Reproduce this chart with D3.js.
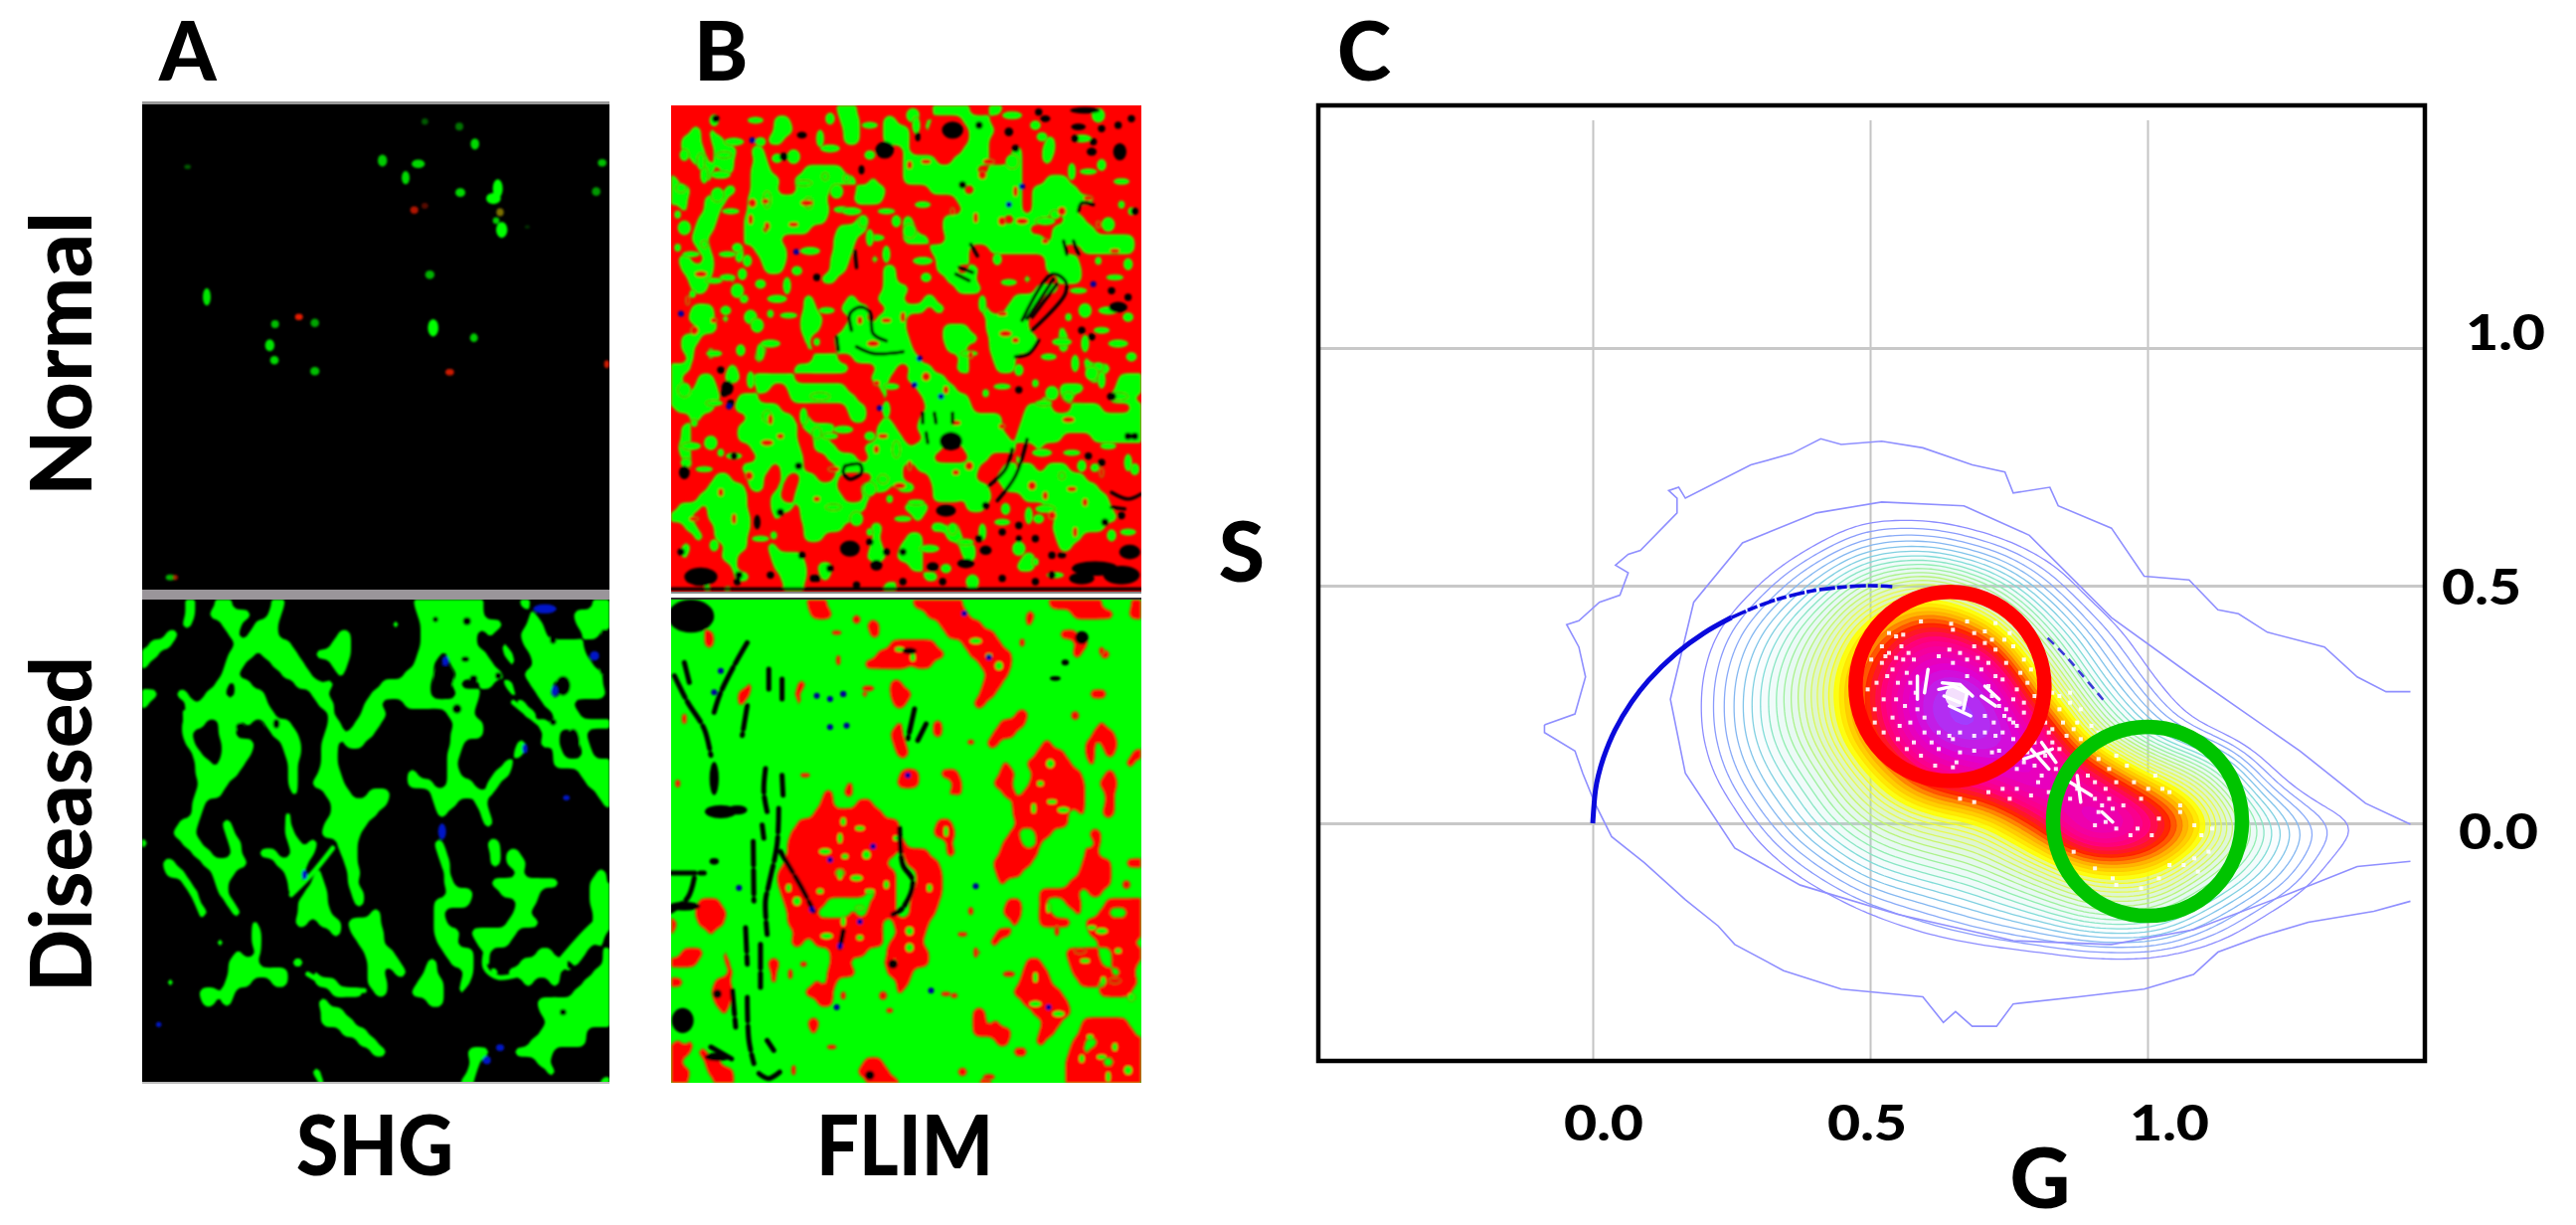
<!DOCTYPE html>
<html><head><meta charset="utf-8">
<script src="https://cdn.jsdelivr.net/npm/d3@7"></script>
<style>html,body{margin:0;background:#fff}svg{display:block}text{font-family:Lato,sans-serif;font-weight:700;fill:#000}</style>
</head><body><svg id="c" width="2591" height="1232"></svg>
<script>
// ---- chart C : phasor plot values (G, S)
const gTicks=[0,0.5,1], sTicks=[0,0.5,1], tickLabels=['0.0','0.5','1.0'];
const outerUpper=[[-.087,.207],[-.032,.23],[-.013,.308],[-.025,.371],[-.047,.418],[-.025,.426],[.012,.465],[.049,.48],[.064,.527],[.041,.543],[.064,.566],[.086,.574],[.152,.653],[.152,.684],[.137,.7],[.155,.707],[.167,.684],[.285,.754],[.359,.778],[.411,.809],[.448,.797],[.521,.804],[.595,.79],[.684,.754],[.743,.739],[.758,.695],[.824,.707],[.839,.668],[.935,.621],[.994,.52],[1.075,.512],[1.127,.449],[1.164,.441],[1.216,.402],[1.319,.371],[1.378,.308],[1.43,.277],[1.474,.277]];
const outerLower=[[1.474,-.164],[1.408,-.185],[1.29,-.208],[1.201,-.239],[1.127,-.271],[1.083,-.318],[.994,-.349],[.876,-.365],[.758,-.38],[.728,-.427],[.684,-.427],[.654,-.396],[.632,-.419],[.595,-.365],[.448,-.349],[.344,-.31],[.256,-.255],[.226,-.216],[.167,-.161],[.093,-.083],[.034,-.028],[.004,.042],[-.018,.105],[-.032,.152],[-.087,.191],[-.087,.207]];
const secondContour=[[1.474,-.002],[1.393,.042],[1.275,.152],[1.083,.308],[.935,.433],[.787,.606],[.669,.668],[.521,.676],[.403,.653],[.27,.59],[.182,.465],[.14,.261],[.167,.105],[.256,-.052],[.374,-.13],[.551,-.192],[.758,-.247],[.935,-.255],[1.083,-.224],[1.26,-.146],[1.378,-.091],[1.474,-.08]];
const densityG=[.1,.2,.3,.4,.5,.6,.7,.8,.9,1,1.1,1.2,1.3,1.4,1.5];
const densityS=[.7,.6,.5,.4,.3,.2,.1,0,-.1,-.2,-.3];
const densityLevels=[
[0,0,0,0,0,0,0,0,0,0,0,0,0,0,0],
[0,0,0,2,5,5,3,1,0,0,0,0,0,0,0],
[0,0,3,8,15,18,13,6,1,0,0,0,0,0,0],
[0,2,7,14,24,31,26,13,5,1,0,0,0,0,0],
[0,3,9,17,28,38,38,21,9,3,0,0,0,0,0],
[0,3,9,16,27,38,40,32,16,7,2,0,0,0,0],
[0,2,7,12,20,29,32,37,30,21,15,4,0,0,0],
[0,0,4,9,14,17,19,27,38,33,22,11,5,3,0],
[0,0,1,4,8,10,12,16,21,21,14,8,3,0,0],
[0,0,0,0,2,4,6,8,11,11,6,2,0,0,0],
[0,0,0,0,0,0,0,0,0,0,0,0,0,0,0]];
const colourLevels=[3,5,7,9,11,14,17,20,23,26,29,34,38];
const colourStops=['#8c8cff','#88aaf8','#80c4ea','#80dcd8','#90eeb0','#b8f478','#e8fa50','#ffff00','#ffb000','#ff2000','#ff0080','#e000d0','#a040ff'];
const arcG=[0,.005,.01,.02,.04,.07,.1,.15,.2,.25], arcS=[0,.07,.1,.14,.196,.255,.3,.357,.4,.433];
const arcFadeG=[.25,.3,.35,.4,.45,.5,.54], arcFadeS=[.433,.458,.477,.49,.497,.5,.498];
const arcTailG=[.82,.85,.88,.92], arcTailS=[.39,.355,.315,.26];
const ringG=[.644,1.0], ringS=[.288,.004], ringColours=['#ff0000','#00c400'];
const speckles=[[420,290],[440,300],[460,295],[510,255],[595,262],[640,255],[690,285],[720,260],[760,290],[400,330],[420,350],[455,330],[370,370],[400,380],[430,400],[460,370],[490,370],[620,350],[660,330],[690,320],[720,340],[750,380],[790,410],[810,440],[780,460],[770,490],[800,500],[830,480],[360,460],[380,520],[405,490],[440,490],[465,510],[500,520],[520,545],[480,560],[450,570],[520,590],[490,620],[560,640],[600,610],[620,650],[660,645],[710,650],[730,645],[610,680],[550,690],[600,695],[770,560],[740,590],[780,570],[720,600],[700,380],[680,400],[640,420],[600,380],[720,420],[740,430],[700,450],[760,550],[880,620],[900,640],[860,660],[830,690],[850,720],[800,680],[820,780],[780,760],[740,760],[920,600],[940,580],[900,520],[930,500],[950,560],[990,570],[880,470],[1010,670],[1040,700],[980,720],[950,760],[930,790],[1000,740],[1030,760],[1060,740],[1090,690],[1130,790],[1170,720],[1190,760],[1240,810],[1280,870],[1030,860],[1060,880],[1100,900],[1160,900],[1020,810],[1050,820],[1080,810],[940,950],[1280,970],[1250,990],[1050,1030],[1130,1060],[1180,1030],
[380,560],[405,590],[430,545],[445,610],[470,640],[510,660],[385,440],[415,420],[445,440],[410,360],[440,365],[475,350],[600,280],[660,290],[710,310],[745,310],[770,330],[800,370],[820,400],[800,530],[770,610],[745,540],[715,560],[690,590],[660,600],[620,590],[590,600],[560,590],[540,620],[470,410],[480,440],[495,470],[560,360],[590,340],[640,370],[670,365],[710,480],[730,510],[750,520],[690,540],[830,620],[870,590],[810,650],[780,700],[890,700],[910,560],[960,610],[1000,640],[1060,660],[1110,740],[1150,760],[1210,770],[1240,830],[1300,900],[1330,880],[1000,790],[1010,830],[1040,790],[1000,870],[1120,880],[1180,850],[880,580],[860,560],[900,480],[930,470],[960,520],[1010,590],[840,740],[870,770],[700,770],[760,790],[660,800],[620,790],[1320,950],[1290,1010],[1210,990],[1000,1000],[1060,1050]];
const peakStrokes=[[[560,460],[600,450],[640,470],[630,520]],[[570,440],[620,445],[655,480]],[[575,480],[620,500]],[[500,420],[500,490]],[[530,400],[520,470]],[[590,510],[650,540]],[[680,480],[720,510]],[[690,450],[730,490]],[[820,640],[870,700]],[[850,620],[890,680]],[[800,670],[880,640]],[[930,740],[990,780]],[[950,720],[960,800]],[[1020,830],[1050,860]]];
const peakCore=[[610,480,32,34]];

// ---- panel A, normal : bright spots [x,y,rx,ry,opacity]
const spotsGreen=[[853,52,10,10,.35],[957,67,12,12,.45],[1004,120,13,17,.85],[725,170,14,18,.8],[833,180,20,13,.85],[795,222,12,20,.85],[1388,177,13,11,.75],[1370,264,13,13,.6],[960,267,15,13,.85],[1073,255,15,28,1],[1060,285,22,17,1],[1085,380,17,24,1],[1068,352,10,10,.8],[868,516,14,13,.7],[195,583,12,26,.9],[137,189,10,7,.35],[401,666,12,12,.75],[521,662,13,13,.65],[385,730,14,18,.9],[399,775,13,13,.85],[521,808,14,13,.75],[878,677,16,26,1],[1001,707,12,13,.8],[85,1433,14,9,.7],[1162,371,8,5,.2]];
const spotsRed=[[473,644,12,10,.9],[821,320,12,11,.7],[853,307,10,9,.35],[928,811,13,10,.8],[1402,787,8,12,.8],[100,1433,8,8,.6]];
const spotsAmber=[[1080,327,11,12,.7]];

// ---- panel A, diseased : green runs per image row [from,to,from,to...]
const shgRuns=[[130,160,220,270,390,430,820,1030,1140,1170,1360,1410],[130,155,200,330,380,420,670,690,830,1030,1170,1190,1300,1410],[125,145,240,300,340,410,750,775,840,1090,1160,1210,1310,1410],[70,110,260,290,320,410,590,630,840,1010,1040,1060,1140,1220,1330,1380],[20,90,280,450,570,630,840,1010,1080,1100,1150,1330],[0,50,260,340,360,470,520,630,830,900,920,1040,1090,1120,1170,1340],[0,20,250,310,390,490,570,620,820,880,930,1060,1110,1130,1180,1360],[240,290,420,510,590,610,790,880,950,1090,1150,1390],[220,260,280,330,460,540,550,580,720,870,930,960,1020,1060,1090,1120,1170,1240,1280,1390],[0,45,100,135,190,250,280,370,510,560,690,870,950,1020,1110,1130,1190,1230,1260,1400],[0,20,130,160,170,380,530,580,670,720,790,1010,1130,1160,1210,1300],[130,240,260,400,560,580,660,740,920,1000,1150,1190,1240,1320],[125,190,230,290,310,330,370,450,560,600,640,720,940,1030,1190,1230,1250,1410],[125,150,230,280,390,470,550,610,620,700,930,1030,1210,1260,1300,1340],[130,160,240,340,420,480,545,590,610,670,930,970,1130,1160,1200,1230,1240,1260,1320,1350],[150,180,240,330,430,480,540,590,920,960,1120,1150,1240,1270,1330,1360],[160,210,230,310,440,470,540,590,920,950,1090,1120,1240,1410],[160,290,445,470,535,600,800,830,920,960,1060,1110,1320,1410],[170,260,445,470,510,610,800,880,920,1000,1040,1080,1340,1410],[160,240,450,470,550,630,680,750,870,1030,1040,1060,1370,1410],[150,190,250,270,570,740,880,950,1010,1040,1390,1410],[150,180,430,450,570,710,895,915,1020,1050],[110,170,240,270,430,450,550,680,1030,1060],[95,160,250,280,430,460,545,660],[0,20,120,180,265,295,440,480,500,530,590,650,880,905,1045,1080],[150,210,270,300,350,410,450,520,560,575,600,650,890,920,1050,1080,1100,1140],[65,100,180,320,400,500,540,555,610,650,900,930,1050,1075,1100,1160],[70,130,210,280,430,490,520,540,620,660,910,930,1130,1150,1370,1400],[120,150,220,260,440,480,510,550,625,650,910,940,1050,1260,1350,1400],[140,165,230,260,440,460,490,560,630,670,920,1000,1080,1200,1350,1410],[160,180,250,280,470,560,640,670,880,990,1130,1190,1350,1410],[175,195,270,300,470,570,690,720,880,910,1120,1170,1360,1410],[330,350,465,495,530,600,620,720,880,920,1100,1200,1360,1410],[330,355,570,600,630,730,880,960,990,1130,1340,1400],[220,250,335,355,650,730,890,950,1010,1110,1310,1360,1370,1390],[280,300,340,360,670,760,910,1000,1030,1050,1190,1240,1280,1340,1395,1410],[260,350,450,490,680,720,730,780,860,890,930,1000,1030,1050,1140,1280,1300,1320,1390,1410],[260,440,510,530,680,730,760,800,850,890,970,1000,1050,1080,1100,1260,1280,1300,1360,1410],[70,100,250,330,390,440,520,590,680,740,830,910,960,990,1150,1180,1230,1260,1330,1410],[170,230,240,280,570,670,700,740,810,910,950,965,1300,1410],[180,220,245,270,530,560,780,800,860,910,1190,1400],[540,610,680,690,1200,1260,1280,1410],[500,520,540,640,1220,1410],[600,680,1200,1340],[650,710,1170,1340],[690,735,985,1050,1120,1240],[990,1020,1190,1230],[20,40,510,540,980,1010,1225,1250],[530,545,965,1000,1380,1410]];
const shgStrands=[[[575,750],[510,830],[450,890]],[[1120,310],[1230,400]],[[1260,1090],[1340,1000],[1395,950]],[[1040,1050],[1035,1110],[1075,1140],[1170,1120]],[[500,1130],[580,1170],[670,1180]],[[1000,590],[1045,670]],[[130,340],[140,420],[190,490]],[[80,810],[130,850],[180,950]]];
const shgHoles=[[980,65,12,12],[885,60,8,8],[1000,240,12,12],[1075,230,10,10],[950,330,14,14],[975,180,12,8],[295,385,12,12],[355,385,12,14],[405,375,10,14],[1240,120,10,14],[1270,260,22,30],[1300,430,20,40],[1395,100,10,10],[1240,370,10,10],[1270,1245,10,10],[910,235,30,40],[1390,210,10,18]];
const shgBlue=[[1215,28,35,14],[1365,170,14,14],[905,700,12,24],[1155,450,8,14],[1040,1390,12,12],[1080,1352,12,10],[490,830,8,14],[1280,598,10,8],[1245,275,10,16],[50,1282,8,8],[915,185,10,14]];

// ---- panel B, normal : green runs per image row
const flimNormalRuns=[[500,560,790,900,960,1000],[310,360,430,450,510,570,640,680,770,790,880,960],[60,90,110,130,310,370,520,570,640,720,760,780,900,980],[30,90,120,160,290,340,520,570,640,720,900,960,1130,1160],[30,100,130,200,240,280,420,440,700,720,880,960,1030,1060,1120,1160],[60,110,130,190,250,290,700,800,850,960,1020,1060,1120,1150],[90,130,150,190,240,300,400,520,700,920,960,1060],[0,20,100,120,240,330,370,560,600,620,700,1060,1130,1200],[0,60,160,200,240,320,380,480,560,650,780,880,920,1060,1090,1230],[0,50,100,170,230,470,550,640,860,1060,1090,1280],[30,50,100,150,230,480,880,1060,1090,1220],[80,140,220,470,560,600,700,730,820,1000,1040,1130,1190,1250],[70,130,220,270,300,420,500,590,700,740,820,1080,1150,1280],[60,110,220,330,490,560,700,780,830,1130,1150,1400],[80,120,200,220,250,350,490,550,780,900,960,1180,1240,1400],[20,60,100,130,190,220,270,350,480,540,600,630,800,900,1130,1230],[30,130,280,340,480,530,640,680,800,860,900,930,1130,1240],[50,120,170,200,450,500,640,680,830,920,1060,1090,1170,1240],[60,110,260,280,640,720,860,940,1100,1170],[200,240,400,430,530,560,620,700,760,800,1030,1120],[60,130,400,440,510,600,650,770,790,830,930,960,1010,1090],[50,130,150,180,280,300,390,460,540,590,620,710,950,1080],[80,140,390,450,520,710,820,900,950,1080,1170,1190],[30,90,300,320,400,420,490,720,820,930,960,1110,1170,1200],[30,70,110,130,190,210,260,290,410,430,500,730,830,890,960,1090,1175,1195],[50,70,110,130,250,280,430,500,550,750,870,900,970,1040,1240,1260],[0,60,170,200,370,540,620,680,720,790,860,900,980,1040,1250,1330],[0,30,80,130,160,210,240,370,600,660,710,830,900,920,1260,1300,1350,1420],[0,50,70,140,260,300,350,530,630,650,740,860,1170,1250,1340,1420],[0,150,200,260,360,560,640,660,760,900,1120,1140,1180,1210,1320,1400],[10,130,190,330,530,590,770,910,1070,1150,1210,1300,1395,1420],[60,90,230,370,390,420,540,590,640,660,750,1000,1060,1420],[30,60,200,380,400,500,620,680,740,1000,1050,1420],[30,60,100,120,200,380,430,470,620,700,760,1020,1040,1180,1270,1420],[20,60,90,110,240,390,430,500,580,720,730,820,880,1040,1100,1120],[30,60,150,170,260,400,470,560,600,790,900,960,1040,1060],[50,70,210,300,330,400,500,700,740,930,1000,1040,1060,1100,1130,1200,1260,1300],[130,180,230,280,330,350,390,440,490,510,610,700,780,920,980,1020,1040,1250],[110,220,240,280,320,340,380,500,570,660,680,740,790,960,1000,1290],[80,230,300,330,370,520,580,600,790,880,890,970,1060,1319],[20,90,110,230,300,370,390,590,700,780,890,950,1130,1330],[0,60,110,240,310,330,390,560,730,760,1160,1350],[40,80,130,240,280,300,400,520,600,640,780,830,840,870,1150,1310],[70,100,130,230,260,280,400,460,610,630,710,760,830,880,1160,1240],[30,60,160,230,290,320,600,640,690,760,870,920,990,1010,1170,1210],[30,50,150,200,300,400,590,650,680,760,880,920,1060,1100],[180,200,310,410,440,490,560,580,720,760,930,950,1040,1100],[90,110,190,240,330,410,450,480,510,530,680,700,760,810],[100,120,160,180,340,400,640,680]];
const flimNormalGrainGreen=[[130,45],[255,45],[100,210],[150,210],[320,160],[370,155],[465,215],[400,235],[415,295],[515,315],[290,285],[545,320],[600,150],[730,30],[65,570],[130,530],[215,510],[170,520],[350,545],[320,585],[270,540],[240,640],[300,630],[355,635],[210,740],[130,750],[270,745],[300,720],[165,620],[260,665],[440,715],[900,750],[985,465],[1020,535],[940,600],[1180,715],[1290,790],[1270,810],[1100,840],[1125,900],[1400,1100],[665,850],[650,920],[520,980],[640,1130],[600,1160],[660,1190],[700,1250],[850,1280],[890,1320],[940,1290],[1130,1220],[1110,1250],[1050,1340],[310,1300],[270,1310],[130,1330],[490,1215],[680,1040],[60,1030],[45,1080],[120,1020],[150,1050],[100,1100],[290,940],[190,1060],[400,940],[1130,350],[1160,330],[1320,360],[1390,320],[1260,200],[1300,180],[1360,230],[1210,200],[1240,100],[1120,95],[1030,170],[1180,1120],[1210,1050],[1240,1090],[1320,1030],[1380,1080],[1120,1050],[200,430],[40,370],[20,430],[180,320],[580,350],[620,400],[650,450],[760,470],[770,520],[720,380],[1290,470],[1340,520],[1380,480],[1300,680],[1250,720],[1350,720],[1390,760],[40,860],[70,960],[130,900],[440,990],[480,1000],[450,100],[480,130],[270,110],[500,260],[530,220],[650,320],[680,350],[760,300],[600,400],[420,440],[380,500],[200,560],[100,420],[170,450],[230,470],[470,620],[240,830],[450,880],[600,1000],[560,1250],[600,1290],[740,1200],[1010,1220],[1000,1260],[1080,1240],[780,1340],[830,1400],[910,1440],[1100,1380],[1160,1420],[1330,1300],[1380,1290],[1300,830],[1350,880],[1200,880],[1150,870],[950,870],[1000,850],[1050,800],[1140,760],[1220,780],[1320,620],[1380,640],[1250,620],[1200,640],[1230,560],[40,150],[160,150],[90,170],[190,110],[30,250],[140,270],[20,330],[60,450],[480,40],[600,60],[740,60],[1030,30],[1100,60],[1290,30],[1360,300]];
const flimNormalGrainRed=[[290,365],[370,360],[240,345],[410,295],[285,290],[245,295],[905,755],[1000,630],[920,340],[1060,350],[1130,410],[1180,320],[1290,360],[1260,280],[1040,260],[960,170],[880,240],[940,210],[720,180],[770,170],[50,590],[90,510],[130,650],[70,680],[570,650],[650,650],[700,640],[610,720],[620,840],[770,820],[830,860],[860,960],[720,1090],[690,1150],[860,1110],[900,1090],[620,1040],[640,1000],[300,950],[290,1020],[330,1000],[235,1120],[150,1170],[70,1250],[190,1250],[490,1100],[440,1190],[1150,1240],[1250,1200],[1210,1160],[1300,1110],[1200,950],[1000,970],[1090,1150],[1130,1180],[1340,440],[1220,1290],[1010,690],[1040,710],[1000,350],[850,320]];
const flimNormalBlobs=[[850,75,32,26],[645,135,28,26],[340,155,12,12],[395,90,15,10],[1130,40,15,10],[1250,15,45,10],[1355,140,20,26],[1270,140,15,12],[1230,65,22,10],[1350,610,28,16],[1330,880,14,12],[845,1015,34,28],[170,855,18,22],[40,1110,16,20],[90,1425,50,28],[540,1340,30,24],[1385,1350,32,22],[1280,1400,70,22],[830,1225,30,18],[620,1390,18,16],[890,1385,26,14],[790,1395,18,14],[1020,80,13,13],[745,95,8,14],[575,195,9,14],[260,1260,10,22],[1050,1310,9,10],[950,1345,18,14],[1180,1360,13,9],[1240,1430,38,18],[1360,1420,55,28]];
const flimNormalSpecksBlack=[[135,40],[1275,110],[1220,100],[1300,70],[1350,60],[1390,40],[1110,20],[1040,130],[930,60],[1150,1360],[1100,1310],[1000,1290],[1050,1270],[930,1310],[700,1350],[650,1350],[600,1320],[480,1400],[430,1430],[300,1420],[200,1440],[30,1350],[180,900],[150,800],[160,870],[385,1090],[190,1060],[1240,680],[1270,700],[1330,560],[1260,1060],[1300,1080],[1360,1240],[1310,1260],[1400,320],[1380,580],[1400,1000],[1380,1000],[950,1210],[330,1230],[440,1430],[560,1450],[700,1440],[820,1440],[1000,1430],[1100,1440],[1150,1420],[880,240],[1050,860],[440,520],[395,1360],[205,1420]];
const flimNormalLines=[[[545,680],[540,630],[570,610],[600,625],[610,690],[650,712]],[[560,730],[610,750],[700,745]],[[1060,650],[1150,510],[1190,530],[1190,570],[1090,680]],[[1090,640],[1165,540]],[[1075,645],[1155,525]],[[960,1150],[1010,1100],[1030,1040]],[[985,1195],[1040,1120],[1075,1010]],[[525,1090],[570,1085],[575,1110],[540,1130],[520,1110],[525,1090]],[[1230,320],[1240,295],[1275,300]],[[1185,410],[1195,450]],[[1215,410],[1230,450]],[[1040,760],[1080,750],[1110,710]],[[905,420],[925,455]],[[860,510],[900,530]],[[870,490],[910,505]],[[1330,1170],[1380,1190],[1419,1175]],[[1330,1215],[1370,1220]],[[555,440],[560,490]],[[0,1462],[1420,1462]],[[500,700],[505,740]],[[770,990],[775,1020]],[[795,930],[800,960]],[[760,930],[760,960]],[[850,930],[850,960]]];
const flimNormalBlue=[[378,443],[245,105],[30,630],[175,910],[630,915],[1060,245],[1020,300],[735,845],[1275,540],[750,765],[815,880]];

// ---- panel B, diseased : red runs per image row
const flimDiseasedRuns=[[410,470,730,880,1140,1300,1390,1419],[420,490,770,900,1070,1100,1210,1340,1380,1419],[80,100,590,630,810,940,1070,1090],[100,130,460,475,510,530,600,630,830,980,1170,1230,1260,1280],[100,130,170,190,660,800,880,1000,1220,1260],[380,400,620,830,900,1030,1210,1240,1290,1330],[580,720,730,790,930,1030],[950,1020],[230,250,380,410,660,700,940,1000],[200,240,370,390,570,600,660,730,930,980,1260,1320],[200,220,380,400,670,710,910,950,1140,1160],[30,50,1040,1080],[30,45,680,700,790,820,990,1070,1290,1310],[660,700,790,820,970,1040,1270,1340],[670,710,890,910,950,990,1120,1150,1250,1280,1300,1350],[680,720,1100,1190,1250,1280,1310,1340,1390,1419],[1000,1020,1070,1210,1260,1280,1370,1400],[390,410,690,745,810,870,990,1040,1090,1240,1310,1340],[530,550,680,745,850,880,970,1030,1080,1250,1290,1350],[460,490,520,550,830,850,860,880,1000,1040,1060,1250,1310,1340],[450,490,560,610,1030,1250,1310,1340],[430,640,1030,1200,1230,1250,1300,1340],[380,690,800,850,1040,1200],[360,690,790,860,1020,1050,1100,1150,1260,1300],[350,710,830,850,1000,1060,1100,1120,1230,1250,1280,1300],[350,680,700,780,830,860,990,1110,1250,1290],[340,650,710,810,970,1090,1240,1330,1370,1419],[320,490,530,680,740,820,980,1060,1230,1330],[320,440,450,680,740,820,990,1010,1200,1330],[330,440,460,590,620,680,730,820,1110,1230,1260,1300],[80,150,340,470,600,680,720,810,1010,1060,1110,1130,1190,1240,1310,1419],[70,170,350,440,540,560,590,680,720,800,1000,1060,1110,1150,1220,1240,1290,1320,1380,1419],[0,20,80,160,350,640,670,780,1030,1050,1110,1210,1250,1419],[0,10,110,130,170,190,370,640,680,770,870,890,980,1030,1260,1419],[360,400,430,640,660,760,960,990,1290,1400],[30,100,150,170,480,590,650,780,910,940,1190,1290,1330,1419],[0,80,160,180,290,330,480,540,640,660,690,780,1070,1120,1200,1300,1330,1410],[170,190,300,320,470,560,650,730,1060,1140,1210,1330,1360,1400],[0,40,130,180,300,320,430,450,470,500,680,720,1050,1150,1230,1290,1320,1410],[120,190,400,490,680,700,1030,1180,1290,1390],[130,180,440,490,1060,1200],[150,170,910,950,1010,1030,1090,1210],[410,450,910,950,970,990,1120,1180,1240,1380],[420,440,910,1000,1005,1025,1110,1160,1230,1400],[10,30,50,70,980,1020,1100,1130,1210,1250,1290,1419],[0,60,80,110,1030,1080,1200,1240,1260,1419],[0,30,100,150,580,640,1190,1300,1340,1419],[0,60,110,190,565,660,860,900,1190,1419],[0,50,130,190,590,690,820,840,930,970,1190,1419]];
const flimDiseasedGrainGreen=[[520,670],[570,690],[510,720],[465,760],[525,775],[590,770],[650,860],[600,880],[510,830],[560,840],[450,880],[380,910],[355,870],[570,930],[520,970],[470,1015],[570,1020],[720,1000],[780,870],[1150,610],[1095,630],[1185,635],[1115,555],[1145,495],[1305,1150],[1250,1090],[1100,1140],[1100,1220],[1265,1320],[1380,1420],[1340,1350],[1270,990],[1140,930],[920,125],[960,170],[990,200],[730,175],[690,150],[830,700],[1300,1000],[1350,1060],[1390,1200],[1240,1385],[1300,1380],[1320,1440],[1170,1250],[680,720],[720,1050]];
const flimDiseasedGrainRed=[[20,555],[405,530],[505,183],[595,268],[905,430],[1220,350],[1300,155],[880,1010],[920,1065],[1235,1060],[855,1195],[640,1195],[520,1195],[485,1350],[370,1420],[960,1440],[660,1240],[1375,860],[905,940],[830,1190],[1165,1000],[1340,1150],[400,1100],[560,60],[1060,130],[500,100],[360,1130],[1020,1130]];
const flimDiseasedBlobs=[[60,50,70,50],[150,640,48,20],[200,635,30,14],[130,540,14,50],[35,1270,33,38],[140,1380,38,13],[40,925,48,13],[1240,115,20,20],[600,1435,14,14],[670,1100,14,14],[1190,190,11,9],[1160,238,16,7],[520,285,9,9],[140,1190,13,13],[720,155,22,10],[130,790,14,10]];
const flimDiseasedLines=[[[10,230],[50,310],[100,390],[120,470]],[[230,130],[190,200],[150,280],[130,340]],[[230,320],[215,410]],[[295,210],[295,270]],[[335,240],[335,300]],[[285,510],[280,580],[290,640]],[[335,530],[338,590]],[[325,630],[320,740],[295,860],[285,910],[290,1010]],[[275,680],[280,720]],[[248,730],[250,910]],[[225,990],[230,1100]],[[270,1040],[270,1170]],[[330,760],[400,880],[430,940]],[[690,690],[700,800],[730,850],[700,930],[670,950]],[[0,825],[100,825]],[[70,840],[50,900],[0,940]],[[735,330],[715,420]],[[770,375],[745,425]],[[185,1180],[195,1290]],[[230,1200],[235,1330],[250,1400]],[[290,1330],[310,1360]],[[265,1430],[295,1445],[335,1420]],[[120,1350],[190,1390]],[[40,190],[55,250]],[[520,1000],[510,1050]]];
const flimDiseasedBlue=[[885,42],[715,530],[610,745],[480,785],[570,972],[425,935],[510,1045],[1140,1230],[960,175],[785,1180],[920,865],[205,870],[500,1230],[520,285],[130,280],[150,215],[440,290],[480,300],[530,380],[480,385]];
const grainRx=[14,24,12,30,16,20,10,26], grainRy=[18,10,26,12,14,22,12,9];
const fleckRx=[8,14,7,18,10,12], fleckRy=[12,7,15,9,8,13];

// ---- texts
const panelLetters=['A','B','C'], columnTitles=['SHG','FLIM'], rowTitles=['Normal','Diseased'], axisNames=['G','S'];

// ---------------- drawing ----------------
const svg=d3.select('#c');
const defs=svg.append('defs');
defs.append('filter').attr('id','soft').attr('x','-5%').attr('y','-5%').attr('width','110%').attr('height','110%')
  .append('feGaussianBlur').attr('stdDeviation',1);
defs.append('filter').attr('id','spot').attr('x','-50%').attr('y','-50%').attr('width','200%').attr('height','200%')
  .append('feGaussianBlur').attr('stdDeviation',1.3);

function panel(id,px0,px1,py0,py1,w,h,bg){
  defs.append('clipPath').attr('id',id).append('rect').attr('x',px0).attr('y',py0).attr('width',px1-px0).attr('height',py1-py0);
  svg.append('rect').attr('x',px0).attr('y',py0).attr('width',px1-px0).attr('height',py1-py0).attr('fill',bg);
  const g=svg.append('g').attr('clip-path',`url(#${id})`).append('g').attr('filter','url(#soft)');
  return {g,sx:d3.scaleLinear([0,w],[px0,px1]),sy:d3.scaleLinear([0,h],[py0,py1]),w,h};
}
function runsPath(p,rows,step){
  const cell=10,nx=Math.ceil(p.w/cell),ny=Math.ceil(p.h/cell),vals=new Float64Array(nx*ny);
  rows.forEach((r,i)=>{
    const yc=step/2+i*step;
    for(let j=Math.floor((yc-step/2)/cell);j<Math.ceil((yc+step/2)/cell)&&j<ny;j++){
      for(let k=0;k+1<r.length;k+=2){
        for(let c=Math.floor(r[k]/cell);c<Math.ceil(r[k+1]/cell)&&c<nx;c++) vals[j*nx+c]=1;
      }
    }
  });
  d3.blur2({data:vals,width:nx,height:ny},.4,.8);
  const shape=d3.contours().size([nx,ny]).thresholds([0.5])(vals)[0];
  const tf=d3.geoTransform({point(x,y){this.stream.point(p.sx(x*cell),p.sy(y*cell));}});
  return d3.geoPath(tf)(shape);
}
function ell(p,list,fill){
  return p.g.append('g').attr('fill',fill).selectAll('ellipse').data(list).join('ellipse')
    .attr('cx',d=>p.sx(d[0])).attr('cy',d=>p.sy(d[1]))
    .attr('rx',d=>p.sx(d[2]||9)-p.sx(0)).attr('ry',d=>p.sy(d[3]||9)-p.sy(0));
}
function lines(p,list,colour,width){
  const ln=d3.line().x(d=>p.sx(d[0])).y(d=>p.sy(d[1])).curve(d3.curveCatmullRom);
  return p.g.append('g').attr('fill','none').attr('stroke',colour).attr('stroke-width',width).attr('stroke-linecap','round')
    .selectAll('path').data(list).join('path').attr('d',ln);
}
const sized=(list,rx,ry)=>list.map((d,i)=>[d[0],d[1],rx[i%rx.length],ry[i%ry.length]]);
const olive='#7f8a00';

// panel A normal
svg.append('rect').attr('x',143).attr('y',102).attr('width',470).attr('height',4).attr('fill','#999');
const pAn=panel('pAn',143,613,105,593,1410,1470,'#000');
pAn.g.attr('filter',null);
[[spotsGreen,'#00ff00'],[spotsRed,'#ff2000'],[spotsAmber,'#b0a000']].forEach(([list,col])=>{
  pAn.g.append('g').attr('fill',col).attr('filter','url(#spot)').selectAll('ellipse').data(list).join('ellipse')
    .attr('cx',d=>pAn.sx(d[0])).attr('cy',d=>pAn.sy(d[1]))
    .attr('rx',d=>d[2]/3).attr('ry',d=>d[3]/3).attr('opacity',d=>d[4]);
});
svg.append('rect').attr('x',143).attr('y',593).attr('width',470).attr('height',10).attr('fill','#9a959a');

// panel A diseased
const pAd=panel('pAd',143,613,603,1089,1410,1458,'#000');
pAd.g.append('path').attr('d',runsPath(pAd,shgRuns,30)).attr('fill','#00ff00');
lines(pAd,shgStrands,'#00ff00',5);
ell(pAd,shgHoles,'#000');
ell(pAd,shgBlue,'#0018c8');
svg.append('rect').attr('x',143).attr('y',1088).attr('width',470).attr('height',2).attr('fill','#bbb');

// panel B normal
const pBn=panel('pBn',675,1148,106,595,1420,1470,'#ff0000');
pBn.g.append('path').attr('d',runsPath(pBn,flimNormalRuns,30)).attr('fill','#00ff00').attr('stroke',olive).attr('stroke-width',1.2);
ell(pBn,sized(flimNormalGrainGreen,grainRx,grainRy),'#00ff00').attr('stroke',olive).attr('stroke-width',1);
ell(pBn,sized(flimNormalGrainRed,fleckRx,fleckRy),'#f01000').attr('stroke',olive).attr('stroke-width',1);
ell(pBn,flimNormalBlobs,'#000');
ell(pBn,flimNormalSpecksBlack.map(d=>[d[0],d[1],11,11]),'#000');
lines(pBn,flimNormalLines,'#000',3.4);
ell(pBn,flimNormalBlue,'#0000a0');
svg.append('rect').attr('x',675).attr('y',595).attr('width',473).attr('height',2).attr('fill','#888');
svg.append('rect').attr('x',675).attr('y',597).attr('width',473).attr('height',4).attr('fill','#fff');
svg.append('rect').attr('x',675).attr('y',601).attr('width',473).attr('height',2).attr('fill','#333');

// panel B diseased
const pBd=panel('pBd',675,1148,603,1089,1420,1458,'#00ff00');
pBd.g.append('path').attr('d',runsPath(pBd,flimDiseasedRuns,30)).attr('fill','#ff0000').attr('stroke',olive).attr('stroke-width',1.2);
ell(pBd,sized(flimDiseasedGrainGreen,fleckRx,fleckRy),'#00ff00').attr('stroke',olive).attr('stroke-width',1);
ell(pBd,sized(flimDiseasedGrainRed,fleckRx,fleckRy),'#f01000').attr('stroke',olive).attr('stroke-width',1);
ell(pBd,flimDiseasedBlobs,'#000');
lines(pBd,flimDiseasedLines,'#000',5).attr('stroke-dasharray','24 5');
ell(pBd,flimDiseasedBlue,'#0000a0');

// chart C
const x=d3.scaleLinear([-.5,1.5],[1323,2439]);
const y=d3.scaleLinear([-.5,1.5],[1067,111]);
const L=1326,R=2439,T=106,B=1067;
defs.append('clipPath').attr('id','plot').append('rect').attr('x',L).attr('y',T).attr('width',R-L).attr('height',B-T);
const gx=svg.append('g').attr('transform',`translate(0,${B})`)
  .call(d3.axisBottom(x).tickValues(gTicks).tickSize(-(B-121)).tickFormat(''));
const gy=svg.append('g').attr('transform',`translate(${L},0)`)
  .call(d3.axisLeft(y).tickValues(sTicks).tickSize(-(R-L)).tickFormat(''));
gx.select('.domain').remove(); gy.select('.domain').remove();
gx.selectAll('line').attr('stroke','#c4c4c4').attr('stroke-width',2);
gy.selectAll('line').attr('stroke','#c8c8c8').attr('stroke-width',3);

const plot=svg.append('g').attr('clip-path','url(#plot)');
const up=10,nC=densityG.length,nR=densityS.length,nx=(nC-1)*up+1,ny=(nR-1)*up+1,field=new Float64Array(nx*ny);
for(let j=0;j<ny;j++)for(let i=0;i<nx;i++){
  const a=i/up,b=j/up,a0=Math.floor(a),b0=Math.floor(b),a1=Math.min(a0+1,nC-1),b1=Math.min(b0+1,nR-1),fa=a-a0,fb=b-b0;
  field[j*nx+i]=(1-fb)*((1-fa)*densityLevels[b0][a0]+fa*densityLevels[b0][a1])+fb*((1-fa)*densityLevels[b1][a0]+fa*densityLevels[b1][a1]);
}
d3.blur2({data:field,width:nx,height:ny},3);
const colour=d3.scaleLinear(colourLevels,colourStops).clamp(true);
const thresholds=d3.range(3,45);
const cellX=d3.scaleLinear([0,nx-1],[densityG[0],densityG[nC-1]]);
const cellY=d3.scaleLinear([0,ny-1],[densityS[0],densityS[nR-1]]);
const proj=d3.geoTransform({point(a,b){this.stream.point(x(cellX(a)),y(cellY(b)));}});
const cpath=d3.geoPath(proj);
const fillOpacity=d3.scaleThreshold([8,14,19,20],[0,.04,.08,.3,.85]);
plot.append('g').selectAll('path').data(d3.contours().size([nx,ny]).thresholds(thresholds)(field)).join('path')
  .attr('d',cpath).attr('fill',d=>colour(d.value)).attr('fill-opacity',d=>fillOpacity(d.value))
  .attr('stroke',d=>colour(d.value)).attr('stroke-width',1.3);
const ln=d3.line().x(d=>x(d[0])).y(d=>y(d[1]));
plot.append('g').attr('fill','none').attr('stroke','#8f8fff').attr('stroke-width',1.6)
  .selectAll('path').data([outerUpper,outerLower,secondContour]).join('path').attr('d',ln);

const zx=d3.scaleLinear([0,1568],[1750,2310]), zy=d3.scaleLinear([0,1260],[540,960]);
plot.append('g').attr('fill','#fff').attr('opacity',.85).selectAll('ellipse').data(peakCore).join('ellipse')
  .attr('cx',d=>zx(d[0])).attr('cy',d=>zy(d[1])).attr('rx',d=>zx(d[2])-zx(0)).attr('ry',d=>zy(d[3])-zy(0));
plot.append('g').attr('fill','#fff').selectAll('rect').data(speckles).join('rect')
  .attr('x',d=>zx(d[0])-2).attr('y',d=>zy(d[1])-2).attr('width',4).attr('height',4).attr('opacity',.9);
plot.append('g').attr('fill','none').attr('stroke','#fff').attr('stroke-width',3.5).attr('stroke-linecap','round')
  .selectAll('path').data(peakStrokes).join('path')
  .attr('d',d3.line().x(d=>zx(d[0])).y(d=>zy(d[1])));

// universal circle
const arcLine=d3.line().x(d=>x(d[0])).y(d=>y(d[1])).curve(d3.curveCatmullRom);
plot.append('path').datum(arcG.map((g,i)=>[g,arcS[i]])).attr('d',arcLine)
  .attr('fill','none').attr('stroke','#0a0adc').attr('stroke-width',5);
plot.append('path').datum(arcFadeG.map((g,i)=>[g,arcFadeS[i]])).attr('d',arcLine)
  .attr('fill','none').attr('stroke','#0a0adc').attr('stroke-width',3.6).attr('stroke-dasharray','16 2 10 3');
plot.append('path').datum(arcTailG.map((g,i)=>[g,arcTailS[i]])).attr('d',arcLine)
  .attr('fill','none').attr('stroke','#3a3ad8').attr('stroke-width',2.6).attr('stroke-dasharray','9 6');

// rings
plot.append('g').attr('fill','none').selectAll('circle').data(ringG).join('circle')
  .attr('cx',d=>x(d)).attr('cy',(d,i)=>y(ringS[i])).attr('r',95)
  .attr('stroke',(d,i)=>ringColours[i]).attr('stroke-width',14.5);

// frame
svg.append('path').attr('d',`M${L},${T}H${R}V${B}H${L}Z`).attr('fill','none').attr('stroke','#000').attr('stroke-width',4.5);

// tick labels
const gLabelDx=[11,-3,22], sLabelX=[2513,2496,2520], sLabelDy=[9,2,-15];
svg.append('g').selectAll('text').data(tickLabels).join('text')
  .attr('x',(d,i)=>x(gTicks[i])+gLabelDx[i]).attr('y',1147).attr('text-anchor','middle').style('font-weight',900)
  .attr('font-size',50).attr('textLength',80).attr('lengthAdjust','spacingAndGlyphs').text(d=>d);
svg.append('g').selectAll('text').data(tickLabels).join('text')
  .attr('x',(d,i)=>sLabelX[i]).attr('y',(d,i)=>y(sTicks[i])+sLabelDy[i]+17).attr('text-anchor','middle').style('font-weight',900)
  .attr('font-size',50).attr('textLength',80).attr('lengthAdjust','spacingAndGlyphs').text(d=>d);

// titles
const letterX=[160,698,1345];
svg.append('g').selectAll('text').data(panelLetters).join('text')
  .attr('x',(d,i)=>letterX[i]).attr('y',81).attr('font-size',82).style('font-weight',900).text(d=>d);
const titleMid=[377,910], titleLen=[158,178];
svg.append('g').selectAll('text').data(columnTitles).join('text')
  .attr('x',(d,i)=>titleMid[i]).attr('y',1182).attr('text-anchor','middle').attr('font-size',84).style('font-weight',900)
  .attr('textLength',(d,i)=>titleLen[i]).attr('lengthAdjust','spacingAndGlyphs').text(d=>d);
const rowMid=[356,829], rowLen=[286,338];
svg.append('g').selectAll('text').data(rowTitles).join('text')
  .attr('transform',(d,i)=>`translate(92,${rowMid[i]}) rotate(-90)`).attr('text-anchor','middle').style('font-weight',900)
  .attr('font-size',86).attr('textLength',(d,i)=>rowLen[i]).attr('lengthAdjust','spacingAndGlyphs').text(d=>d);
svg.append('text').attr('x',2052).attr('y',1215).attr('text-anchor','middle').attr('font-size',84).style('font-weight',900).text(axisNames[0]);
svg.append('text').attr('x',1249).attr('y',585).attr('text-anchor','middle').attr('font-size',84).style('font-weight',900).text(axisNames[1]);
</script></body></html>
